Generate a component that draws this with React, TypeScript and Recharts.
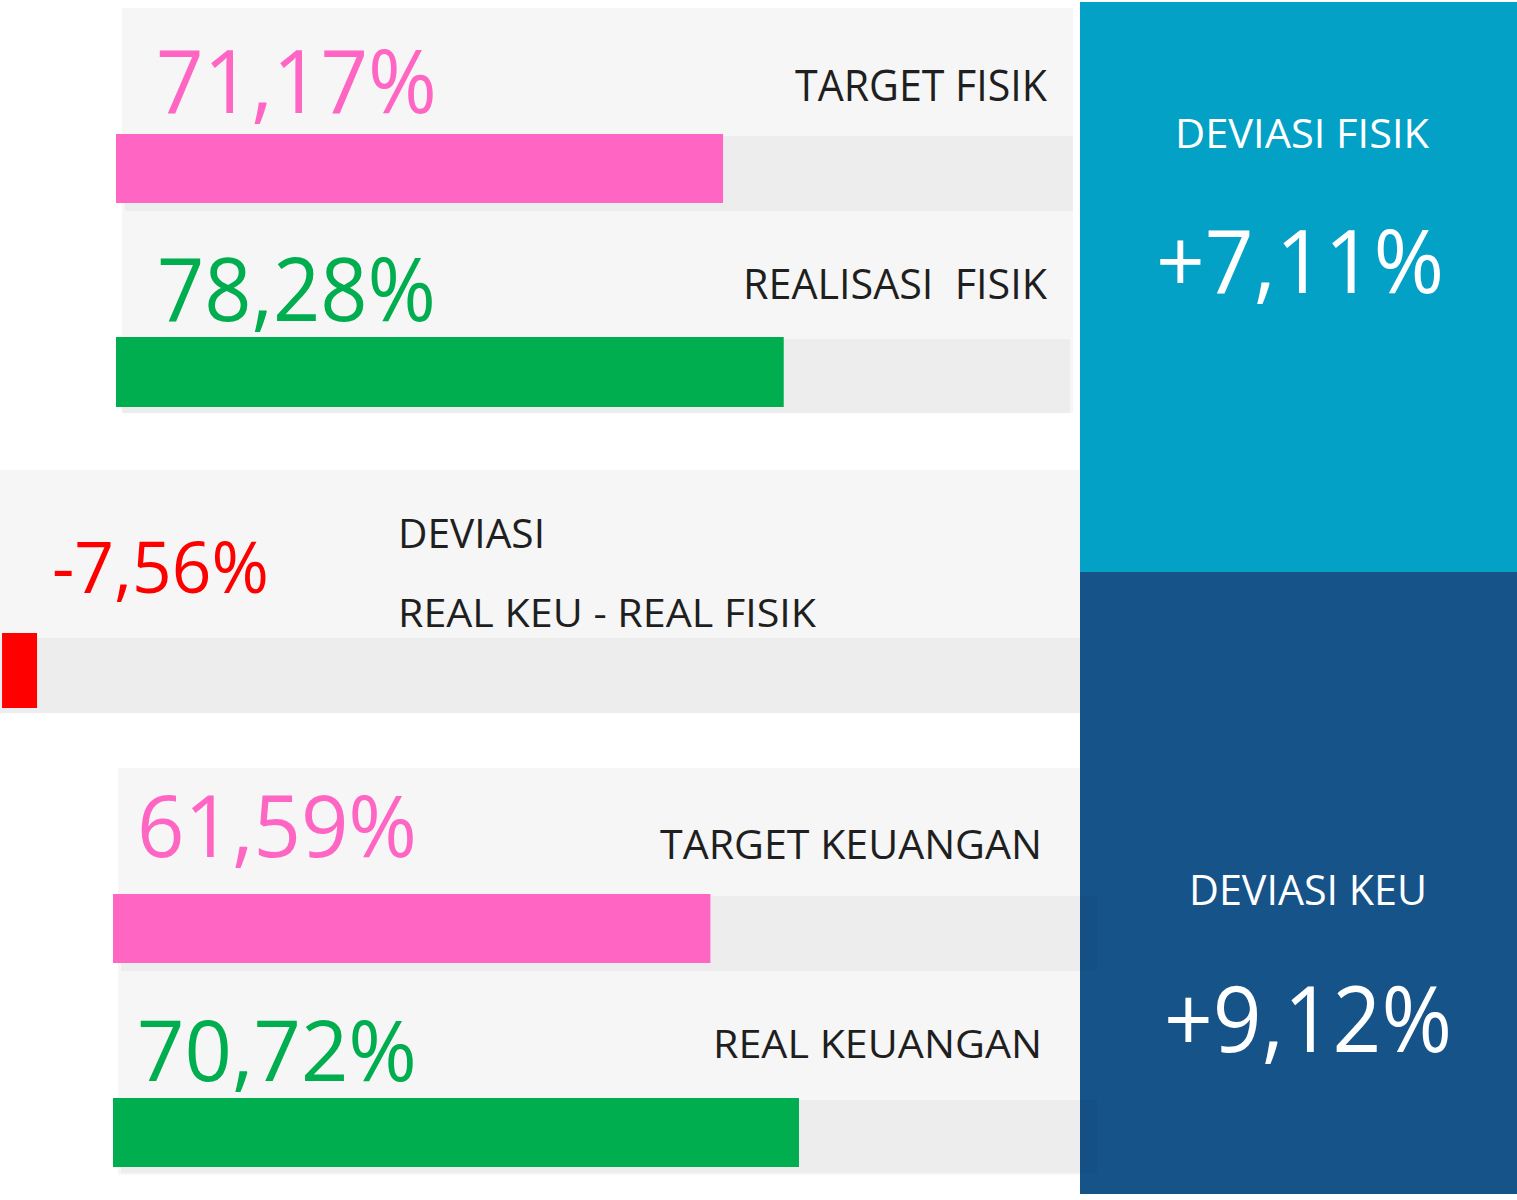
import React from 'react';
import { BarChart, Bar, XAxis, YAxis } from 'recharts';

// ---- data ----
const fisikLabels = ['TARGET FISIK', 'REALISASI  FISIK'];
const fisikValues = [71.17, 78.28];
const keuLabels = ['TARGET KEUANGAN', 'REAL KEUANGAN'];
const keuValues = [61.59, 70.72];
const selisihLabels = ['DEVIASI', 'REAL KEU - REAL FISIK'];
const selisihValues = [-7.56];
const deviasiLabels = ['DEVIASI FISIK', 'DEVIASI KEU'];
const deviasiValues = [7.11, 9.12];

const PINK = '#ff66c4';
const GREEN = '#00ad4f';
const RED = '#ff0000';
const DARK = '#1f1f1f';
const PANEL = '#f6f6f6';
const TRACK = '#ededed';
const FONT = '"Open Sans", "DejaVu Sans", sans-serif';
const PAD = 12;

const fmt = (v: number, plus = false) =>
  (plus && v > 0 ? '+' : '') + v.toFixed(2).replace('.', ',') + '%';

function HBar(props: {
  x: number; y: number; w: number; h: number; name: string; value: number;
  color: string; domain: [number, number];
}) {
  const { x, y, w, h, name, value, color, domain } = props;
  const data = [{ name, value }];
  const ch = h + PAD * 2;
  return (
    <div style={{ position: 'absolute', left: x, top: y - PAD, width: w, height: ch }}>
      <BarChart
        width={w}
        height={ch}
        data={data}
        layout="vertical"
        margin={{ top: 0, right: 0, bottom: 0, left: 0 }}
        barCategoryGap="0%"
        barGap={0}
      >
        <XAxis type="number" hide domain={domain} allowDataOverflow />
        <YAxis type="category" dataKey="name" hide width={0} padding={{ top: 0, bottom: 0 }} />
        <Bar dataKey="value" fill={color} isAnimationActive={false} barSize={h} />
      </BarChart>
    </div>
  );
}

function T(props: {
  x: number; y: number; size: number; w: number; color: string; children: string;
}) {
  const { x, y, size, w, color, children } = props;
  return (
    <text
      x={x}
      y={y}
      fontSize={size}
      fill={color}
      fontFamily={FONT}
      textLength={w}
      lengthAdjust="spacingAndGlyphs"
      style={{ whiteSpace: 'pre' }}
    >
      {children}
    </text>
  );
}

export default function App() {
  return (
    <div style={{ position: 'absolute', left: 0, top: 0, width: 1517, height: 1200, background: '#fff' }}>
      {/* background panels */}
      <svg width={1517} height={1200} style={{ position: 'absolute', left: 0, top: 0 }}>
        {/* fisik panel */}
        <rect x={122} y={8} width={951} height={405} fill={PANEL} />
        <rect x={125} y={136} width={948} height={75} fill={TRACK} />
        <rect x={122} y={339} width={948} height={74} fill={TRACK} />
        {/* selisih panel */}
        <rect x={0} y={470} width={1080} height={168} fill={PANEL} />
        <rect x={0} y={638} width={1080} height={75} fill={TRACK} />
        {/* keuangan panel */}
        <rect x={118} y={768} width={962} height={407} fill={PANEL} />
        <rect x={121} y={896} width={959} height={75} fill={TRACK} />
        <rect x={121} y={1100} width={959} height={73} fill={TRACK} />
        {/* deviasi panels */}
        <rect x={1080} y={2} width={437} height={570} fill="#03a1c6" />
        <rect x={1080} y={572} width={437} height={622} fill="#155389" />
        <rect x={1080} y={896} width={17} height={75} fill="rgba(0,0,0,0.035)" />
        <rect x={1080} y={1100} width={17} height={73} fill="rgba(0,0,0,0.035)" />
      </svg>

      {/* bars */}
      <HBar x={116} y={134} w={853} h={69} name={fisikLabels[0]} value={fisikValues[0]} color={PINK} domain={[0, 100]} />
      <HBar x={116} y={337} w={853} h={70} name={fisikLabels[1]} value={fisikValues[1]} color={GREEN} domain={[0, 100]} />
      <HBar x={0} y={633} w={500} h={75} name={selisihLabels[1]} value={selisihValues[0]} color={RED} domain={[-8, 100]} />
      <HBar x={113} y={894} w={970} h={69} name={keuLabels[0]} value={keuValues[0]} color={PINK} domain={[0, 100]} />
      <HBar x={113} y={1098} w={970} h={69} name={keuLabels[1]} value={keuValues[1]} color={GREEN} domain={[0, 100]} />

      {/* texts */}
      <svg width={1517} height={1200} style={{ position: 'absolute', left: 0, top: 0, pointerEvents: 'none' }}>
        <T x={156} y={113} size={88} w={281} color={PINK}>{fmt(fisikValues[0])}</T>
        <T x={795} y={101} size={44} w={252} color={DARK}>{fisikLabels[0]}</T>
        <T x={157} y={321} size={87} w={279} color={GREEN}>{fmt(fisikValues[1])}</T>
        <T x={743} y={299} size={42} w={304} color={DARK}>{fisikLabels[1]}</T>

        <T x={52} y={593} size={72} w={217} color={RED}>{fmt(selisihValues[0])}</T>
        <T x={398} y={548} size={40} w={147} color={DARK}>{selisihLabels[0]}</T>
        <T x={398} y={627} size={39} w={418} color={DARK}>{selisihLabels[1]}</T>

        <T x={137} y={857} size={86} w={280} color={PINK}>{fmt(keuValues[0])}</T>
        <T x={660} y={859} size={40} w={382} color={DARK}>{keuLabels[0]}</T>
        <T x={137} y={1081} size={85} w={280} color={GREEN}>{fmt(keuValues[1])}</T>
        <T x={713} y={1058} size={39} w={329} color={DARK}>{keuLabels[1]}</T>

        <T x={1175} y={148} size={41} w={254} color="#ffffff">{deviasiLabels[0]}</T>
        <T x={1156} y={293} size={88} w={288} color="#ffffff">{fmt(deviasiValues[0], true)}</T>
        <T x={1189} y={905} size={42} w={238} color="#ffffff">{deviasiLabels[1]}</T>
        <T x={1164} y={1052} size={91} w={288} color="#ffffff">{fmt(deviasiValues[1], true)}</T>
      </svg>
    </div>
  );
}
